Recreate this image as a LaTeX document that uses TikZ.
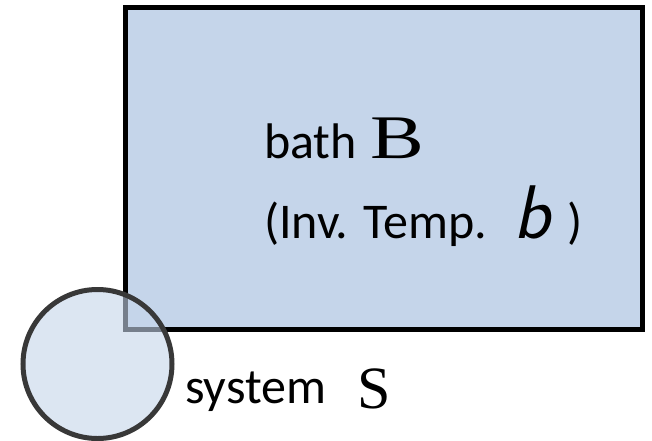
\documentclass[tikz,border=0pt]{standalone}
\usepackage{fontspec}
\usepackage{graphicx}
\setmainfont{Carlito}
\newfontfamily\serifbig{Liberation Serif}
\definecolor{bathfill}{HTML}{C5D5EA}
\definecolor{ringgray}{HTML}{383838}
\begin{document}
\begin{tikzpicture}[x=1pt,y=-1pt,
  bathbox/.style={draw=black,line width=5pt,fill=bathfill,rectangle,inner sep=0pt},
  sysring/.style={draw=ringgray,line width=5pt,fill=bathfill,fill opacity=0.6,draw opacity=1,circle,inner sep=0pt,minimum size=149pt},
  lbl/.style={anchor=base west,inner sep=0pt,font=\fontsize{50}{58}\selectfont}]
\useasboundingbox (0,0) rectangle (652,440);
\node[bathbox,minimum width=517pt,minimum height=321.5pt] (bath) at (384,168.25) {};
\node[sysring] (sys) at (97.5,364) {};
\node[lbl] (bathtxt) at (264,158) {bath\hspace{14pt}\scalebox{1.3}[1]{\serifbig\fontsize{62}{70}\selectfont B}};
\node[lbl] (temptxt) at (264,238) {(Inv. Temp.\hspace{26pt}{\sffamily\itshape\fontsize{76}{80}\selectfont b}\hspace{18pt})};
\node[lbl] (systxt) at (185,403) {system\hspace{31pt}\raisebox{-5pt}{\serifbig\fontsize{60}{70}\selectfont S}};
\end{tikzpicture}
\end{document}
